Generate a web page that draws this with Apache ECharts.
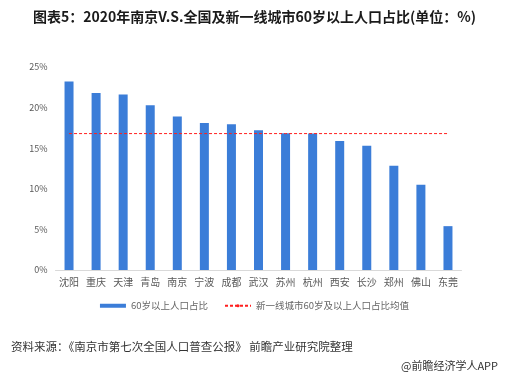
<!DOCTYPE html>
<html><head><meta charset="utf-8">
<script src="https://cdn.jsdelivr.net/npm/echarts@6/dist/echarts.min.js"></script>
<style>html,body{margin:0;padding:0;background:#fff;}#c{width:509px;height:373px;}</style>
</head><body><div id="c"></div>
<script>
var categories = ['沈阳','重庆','天津','青岛','南京','宁波','成都','武汉','苏州','杭州','西安','长沙','郑州','佛山','东莞'];
var shareValues = [23.2, 21.8, 21.6, 20.3, 18.9, 18.1, 17.95, 17.2, 16.85, 16.8, 15.9, 15.3, 12.85, 10.5, 5.4];
var avgValue = 16.8;
var avgValues = categories.map(function(){ return avgValue; });
var yTicks = [0, 5, 10, 15, 20, 25];

var chart = echarts.init(document.getElementById('c'));
var font = '"Microsoft YaHei","Noto Sans CJK SC",sans-serif';
chart.setOption({
  backgroundColor: '#fff',
  animation: false,
  title: [{
    text: '图表5：2020年南京V.S.全国及新一线城市60岁以上人口占比(单位：%)',
    left: 'center', top: 5,
    textStyle: {fontSize: 14, fontWeight: 'bold', color: '#1a1a1a', fontFamily: font}
  },{
    text: '资料来源：《南京市第七次全国人口普查公报》 前瞻产业研究院整理',
    left: 6, top: 336,
    textStyle: {fontSize: 11.5, fontWeight: 'normal', color: '#333', fontFamily: font}
  },{
    text: '@前瞻经济学人APP',
    right: 6, top: 355,
    textStyle: {fontSize: 11, fontWeight: 'normal', color: '#333', fontFamily: font}
  }],
  legend: {
    top: 296, left: 'center',
    itemGap: 16, itemWidth: 26, itemHeight: 4,
    textStyle: {fontSize: 9.5, color: '#666', fontFamily: font},
    data: [
      {name: '60岁以上人口占比', icon: 'rect'},
      {name: '新一线城市60岁及以上人口占比均值'}
    ]
  },
  grid: {left: 55.5, right: 47.5, top: 67, bottom: 103},
  xAxis: {
    type: 'category', data: categories,
    axisLine: {lineStyle: {color: '#d9d9d9'}},
    axisTick: {show: false},
    axisLabel: {fontSize: 10, color: '#595959', margin: 7, fontFamily: font}
  },
  yAxis: {
    type: 'value', min: yTicks[0], max: yTicks[yTicks.length-1], interval: 5,
    axisLine: {show: false}, axisTick: {show: false}, splitLine: {show: false},
    axisLabel: {fontSize: 9, color: '#595959', formatter: '{value}%', margin: 8, fontFamily: font}
  },
  series: [{
    name: '60岁以上人口占比', type: 'bar', data: shareValues,
    barWidth: 9, itemStyle: {color: '#3b7dd8'}
  },{
    name: '新一线城市60岁及以上人口占比均值', type: 'line', data: avgValues,
    symbol: 'none', lineStyle: {color: '#ff1f1f', width: 1, type: [3, 2]},
    itemStyle: {color: '#ff1f1f'}, z: 5
  }]
});
</script></body></html>
